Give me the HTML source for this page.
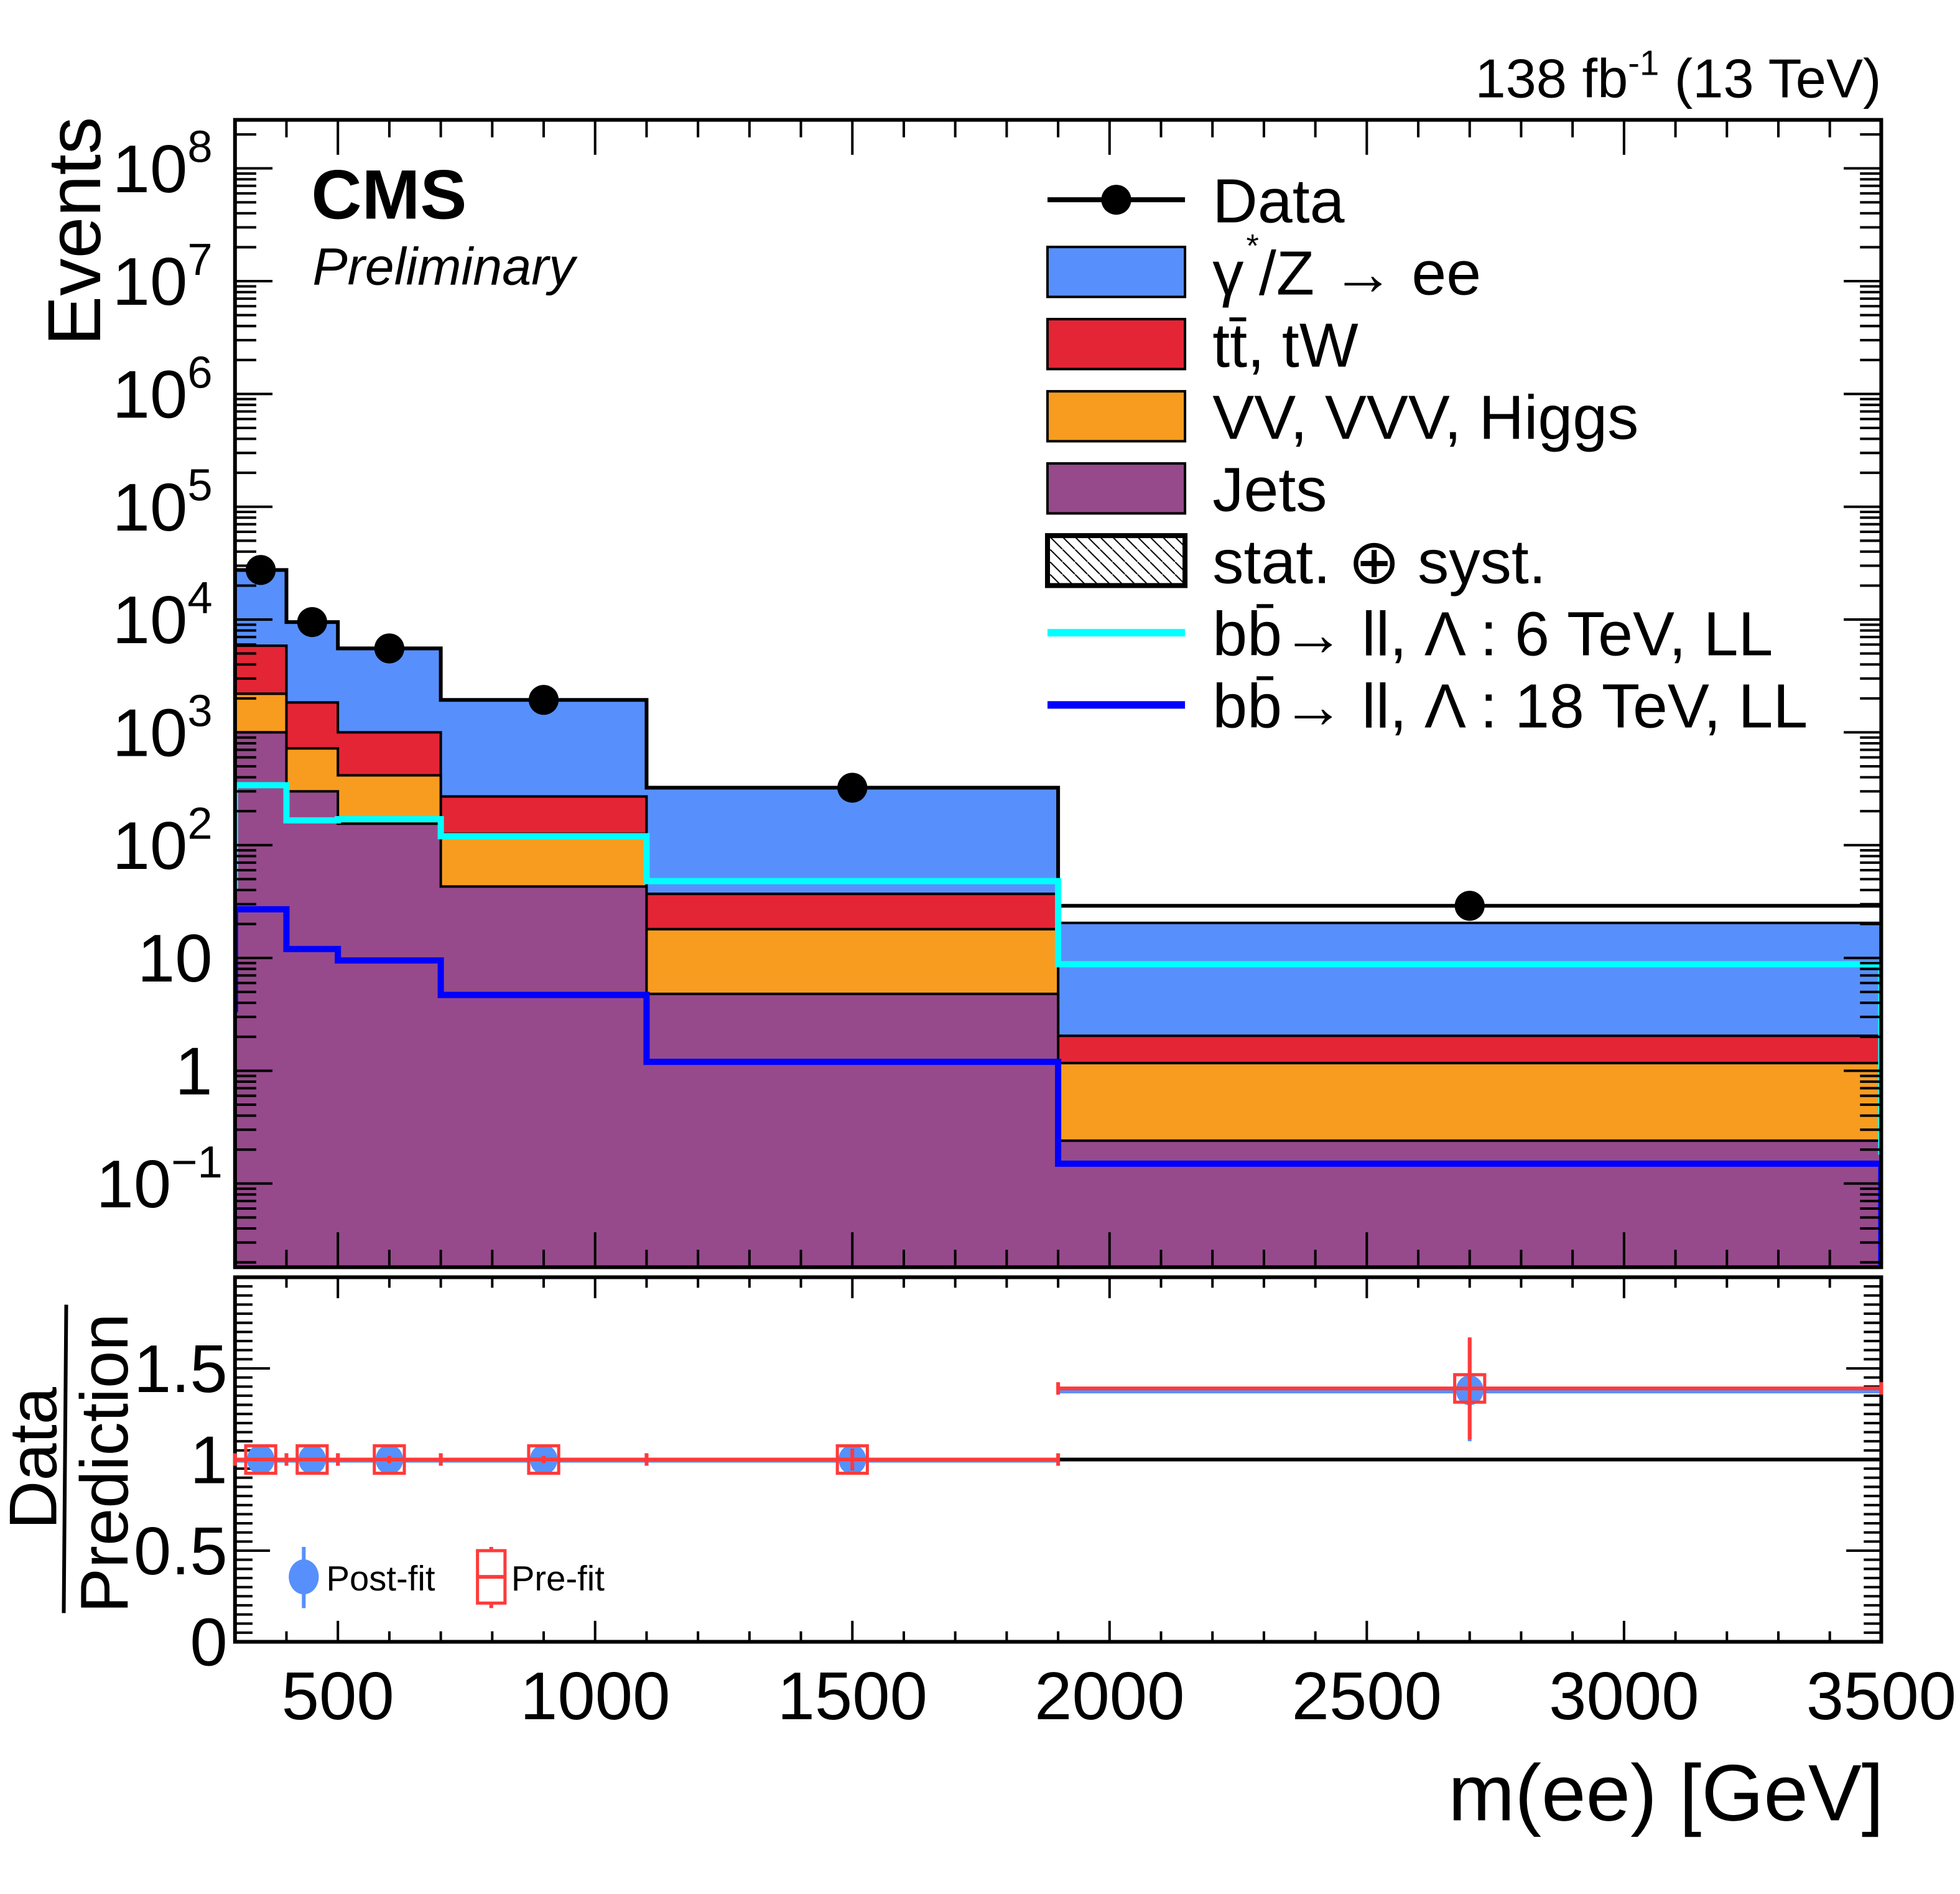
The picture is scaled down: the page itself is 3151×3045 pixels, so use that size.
<!DOCTYPE html>
<html><head><meta charset="utf-8"><style>
html,body{margin:0;padding:0;background:#fff}
svg{display:block}
text{font-family:"Liberation Sans",sans-serif;fill:#000}
</style></head><body>
<svg id="chart" width="3151" height="3045" viewBox="0 0 1568 1517" preserveAspectRatio="none" xmlns="http://www.w3.org/2000/svg">
<defs>
<pattern id="hatch" patternUnits="userSpaceOnUse" width="10" height="10"><path d="M0,0 L10,10" stroke="#000" stroke-width="1"/></pattern>
<clipPath id="mainClip"><rect x="188" y="96" width="1317" height="919"/></clipPath>
</defs>
<g id="main" clip-path="url(#mainClip)"></g>
<g id="axes"></g>
<g id="ratio"></g>
<g id="labels">
<text x="1505" y="78" font-size="44" text-anchor="end">138 fb<tspan font-size="28" dy="-18">-1</tspan><tspan dy="18"> (13 TeV)</tspan></text>
<text x="249" y="175" font-size="56" font-weight="bold">CMS</text>
<text x="250" y="228" font-size="42" font-style="italic">Preliminary</text>
<text transform="translate(80,277) rotate(-90)" font-size="60">Events</text>
<text x="1507" y="1458" font-size="64" text-anchor="end">m(ee) [GeV]</text>
<g>
<text transform="translate(45,1225) rotate(-90)" font-size="54">Data</text>
<line x1="51" y1="1292" x2="53" y2="1045" stroke="#000" stroke-width="3"/>
<text transform="translate(102,1292) rotate(-90)" font-size="54">Prediction</text>
</g>
</g>
<g id="legend"></g>
</svg>
<script>
const edges = [300, 400, 500, 700, 1100, 1900, 3500];
const dataVals = [27500, 9500, 5550, 1940, 323, 29];
const jets = [1000, 300, 155, 43, 4.8, 0.24];
const vv = [1200, 420, 261, 83, 13.2, 0.93];
const ttbar = [3660, 1120, 584, 144, 19, 0.87];
const dy = [21640, 7660, 4550, 1670, 286, 18.4];
const sig6 = [340, 166, 170, 120, 48, 8.8];
const sig18 = [27, 12, 9.5, 4.7, 1.2, 0.15];
const ratioPost = [1.0, 1.0, 1.0, 1.0, 1.0, 1.38];
const ratioPre = [1.0, 1.0, 1.0, 1.0, 1.0, 1.39];
const ratioErr = [0.01, 0.01, 0.02, 0.02, 0.06, 0.28];
const xTicks = [500, 1000, 1500, 2000, 2500, 3000, 3500];
const yDecades = [-1, 0, 1, 2, 3, 4, 5, 6, 7, 8];
const ratioTicks = [0, 0.5, 1, 1.5];

const NS = "http://www.w3.org/2000/svg";
const X0 = 188, X1 = 1505, YT = 96, YB = 1015, RT = 1023, RB = 1315;
const xs = v => X0 + (v - 300) / 3200 * (X1 - X0);
const logMin = -1.742, logMax = 8.43;
const ys = v => YB - (Math.log10(v) - logMin) / (logMax - logMin) * (YB - YT);
const rs = v => RB - v / 2 * (RB - RT);
function mk(tag, attrs, parent) { const e = document.createElementNS(NS, tag); for (const k in attrs) e.setAttribute(k, attrs[k]); parent.appendChild(e); return e; }
const main = document.getElementById('main'), axes = document.getElementById('axes'), ratio = document.getElementById('ratio'), legend = document.getElementById('legend');

function stepPath(vals, closeBottom, startV, endV) {
  let d = '';
  const first = closeBottom ? ys(1e-3) : ys(startV);
  d += 'M' + xs(edges[0]) + ',' + first;
  for (let i = 0; i < vals.length; i++) { d += ' L' + xs(edges[i]) + ',' + ys(vals[i]) + ' L' + xs(edges[i + 1]) + ',' + ys(vals[i]); }
  d += ' L' + xs(edges[edges.length - 1]) + ',' + (closeBottom ? ys(1e-3) : ys(endV));
  if (closeBottom) d += ' Z';
  return d;
}
const layers = [['jets', jets, '#964a8b'], ['vv', vv, '#f89c20'], ['ttbar', ttbar, '#e42536'], ['dy', dy, '#5790fc']];
let run = edges.slice(1).map(() => 0);
const tops = layers.map(l => { run = run.map((r, i) => r + l[1][i]); return run.slice(); });
for (let k = layers.length - 1; k >= 0; k--) {
  const p = mk('path', { d: stepPath(tops[k], true), fill: layers[k][2], stroke: '#000', 'stroke-width': 2 }, main);
  
  
}
const dataLine = mk('path', { d: stepPath(dataVals, false, 1e-3, 1e-3), fill: 'none', stroke: '#000', 'stroke-width': 3 }, main);


const s6 = mk('path', { d: stepPath(sig6, false, 40, 0.18), fill: 'none', stroke: '#00ffff', 'stroke-width': 5 }, main);


const s18 = mk('path', { d: stepPath(sig18, false, 3.3, 0.001), fill: 'none', stroke: '#0000ff', 'stroke-width': 5 }, main);


dataVals.forEach((v, i) => {
  const c = mk('circle', { cx: xs((edges[i] + edges[i + 1]) / 2), cy: ys(v), r: 12, fill: '#000' }, main);
  
  
});

const fr = mk('rect', { x: X0, y: YT, width: X1 - X0, height: YB - YT, fill: 'none', stroke: '#000', 'stroke-width': 3 }, axes);


for (let v = 300; v <= 3500; v += 100) {
  const major = v % 500 === 0, L = major ? 28 : 14;
  [[YB, -1, 1], [YT, 1, 1], [RB, -1, 0.6], [RT, 1, 0.6]].forEach(([y, s, f]) => mk('line', { x1: xs(v), x2: xs(v), y1: y, y2: y + s * L * f, stroke: '#000', 'stroke-width': 2 }, axes));
}
for (let d = -2; d <= 8; d++) {
  for (let m = 1; m <= 9; m++) {
    const v = m * Math.pow(10, d); const y = ys(v);
    if (y < YT || y > YB) continue;
    const L = m === 1 ? 30 : 17;
    mk('line', { x1: X0, x2: X0 + L, y1: y, y2: y, stroke: '#000', 'stroke-width': 2 }, axes);
    mk('line', { x1: X1, x2: X1 - L, y1: y, y2: y, stroke: '#000', 'stroke-width': 2 }, axes);
  }
}
yDecades.forEach(d => {
  const y = ys(Math.pow(10, d));
  const t = mk('text', { x: 170, y: y + 19, 'font-size': 54, 'text-anchor': 'end' }, axes);
  
  
  if (d === 0) t.textContent = '1';
  else if (d === 1) t.textContent = '10';
  else { t.textContent = '10'; const ts = mk('tspan', { 'font-size': 36, dy: -24 }, t); ts.textContent = d === -1 ? '\u22121' : String(d); t.setAttribute('x', d === -1 ? 178 : 170); }
});

const rfr = mk('rect', { x: X0, y: RT, width: X1 - X0, height: RB - RT, fill: 'none', stroke: '#000', 'stroke-width': 3 }, ratio);


for (let v = 0; v <= 2.0001; v += 0.05) {
  const major = Math.abs(v * 2 - Math.round(v * 2)) < 1e-6, L = major ? 28 : 14;
  mk('line', { x1: X0, x2: X0 + L, y1: rs(v), y2: rs(v), stroke: '#000', 'stroke-width': 2 }, ratio);
  mk('line', { x1: X1, x2: X1 - L, y1: rs(v), y2: rs(v), stroke: '#000', 'stroke-width': 2 }, ratio);
}
ratioTicks.forEach(v => {
  const t = mk('text', { x: 182, y: rs(v) + 19, 'font-size': 54, 'text-anchor': 'end' }, ratio);
  
  
  t.textContent = String(v);
});
xTicks.forEach(v => {
  const t = mk('text', { x: xs(v), y: 1377, 'font-size': 54, 'text-anchor': 'middle' }, ratio);
  
  
  t.textContent = String(v);
});
const band = mk('rect', { x: X0, y: rs(1.005), width: X1 - X0, height: rs(0.995) - rs(1.005), fill: 'url(#hatch)', stroke: 'none' }, ratio);


const unity = mk('line', { x1: X0, x2: X1, y1: rs(1), y2: rs(1), stroke: '#000', 'stroke-width': 3 }, ratio);


ratioPost.forEach((v, i) => {
  const xc = xs((edges[i] + edges[i + 1]) / 2);
  const pl = mk('line', { x1: xs(edges[i]), x2: xs(edges[i + 1]), y1: rs(v) + 1, y2: rs(v) + 1, stroke: '#5790fc', 'stroke-width': 3 }, ratio);
  
  
  mk('line', { x1: xc, x2: xc, y1: rs(v + ratioErr[i]), y2: rs(v - ratioErr[i]), stroke: '#5790fc', 'stroke-width': 3 }, ratio);
  const c = mk('ellipse', { cx: xc, cy: rs(v), rx: 11, ry: 12, fill: '#5790fc' }, ratio);
  
  
});
ratioPre.forEach((v, i) => {
  const xc = xs((edges[i] + edges[i + 1]) / 2);
  const pl = mk('line', { x1: xs(edges[i]), x2: xs(edges[i + 1]), y1: rs(v), y2: rs(v), stroke: '#ff3a3a', 'stroke-width': 3 }, ratio);
  
  
  mk('line', { x1: xc, x2: xc, y1: rs(v + ratioErr[i]), y2: rs(v - ratioErr[i]), stroke: '#ff3a3a', 'stroke-width': 3 }, ratio);
  [edges[i], edges[i + 1]].forEach(e => mk('line', { x1: xs(e), x2: xs(e), y1: rs(v) - 5, y2: rs(v) + 5, stroke: '#ff3a3a', 'stroke-width': 3 }, ratio));
  const s = mk('rect', { x: xc - 12, y: rs(v) - 11, width: 24, height: 22, fill: 'none', stroke: '#ff3a3a', 'stroke-width': 2.5 }, ratio);
  
  
});
const rl = mk('g', {}, ratio);


mk('line', { x1: 243, x2: 243, y1: 1239, y2: 1288, stroke: '#5790fc', 'stroke-width': 3 }, rl);
mk('ellipse', { cx: 243, cy: 1263, rx: 12, ry: 14, fill: '#5790fc' }, rl);
const tpf = mk('text', { x: 261, y: 1274, 'font-size': 28 }, rl); tpf.textContent = 'Post-fit';
mk('line', { x1: 393, x2: 393, y1: 1239, y2: 1288, stroke: '#ff3a3a', 'stroke-width': 3 }, rl);
mk('rect', { x: 382, y: 1242, width: 22, height: 42, fill: '#fff', stroke: '#ff3a3a', 'stroke-width': 2.5 }, rl);
mk('line', { x1: 382, x2: 404, y1: 1263, y2: 1263, stroke: '#ff3a3a', 'stroke-width': 3 }, rl);
const tpr = mk('text', { x: 409, y: 1274, 'font-size': 28 }, rl); tpr.textContent = 'Pre-fit';

const legRows = [
  ['data', 'Data'], ['dy', 'γ*/Z → ee'], ['ttbar', 'tt̄, tW'], ['vv', 'VV, VVV, Higgs'], ['jets', 'Jets'],
  ['unc', 'stat. ⊕ syst.'], ['sig6', 'bb̄→ ll, Λ : 6 TeV, LL'], ['sig18', 'bb̄→ ll, Λ : 18 TeV, LL']];
const legColors = { dy: '#5790fc', ttbar: '#e42536', vv: '#f89c20', jets: '#964a8b' };
legRows.forEach((r, i) => {
  const y = 160 + i * 57.8;
  const g = mk('g', {}, legend);
  
  
  if (r[0] === 'data') { mk('line', { x1: 838, x2: 948, y1: y, y2: y, stroke: '#000', 'stroke-width': 4 }, g); mk('circle', { cx: 893, cy: y, r: 12, fill: '#000' }, g); }
  else if (legColors[r[0]]) mk('rect', { x: 838, y: y - 20, width: 110, height: 40, fill: legColors[r[0]], stroke: '#000', 'stroke-width': 2 }, g);
  else if (r[0] === 'unc') { mk('rect', { x: 838, y: y - 20, width: 110, height: 40, fill: 'url(#hatch)', stroke: '#000', 'stroke-width': 4 }, g); }
  else mk('line', { x1: 838, x2: 948, y1: y, y2: y, stroke: r[0] === 'sig6' ? '#00ffff' : '#0000ff', 'stroke-width': 6 }, g);
  const t = mk('text', { x: 970, y: y + 18, 'font-size': 50 }, g);
  if (r[0] === 'dy') { t.textContent = 'γ'; const a = mk('tspan', { 'font-size': 26, dy: -30, dx: 2 }, t); a.textContent = '*'; const b = mk('tspan', { dy: 30 }, t); b.textContent = '/Z → ee'; }
  else t.textContent = r[1];
});
</script>
</body></html>
